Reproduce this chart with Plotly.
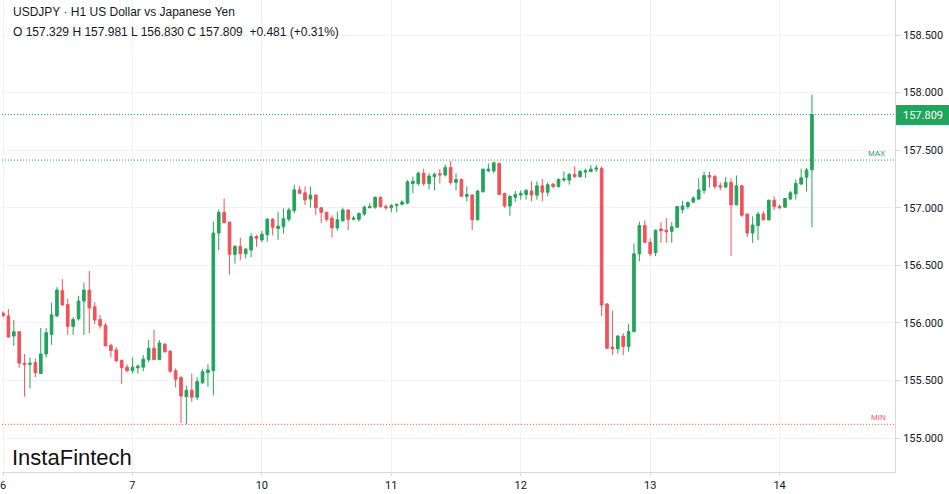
import plotly.graph_objects as go

# ---------------- data ----------------
symbol_title = "USDJPY · H1 US Dollar vs Japanese Yen"
day_labels = ["6", "7", "10", "11", "12", "13", "14"]
bars_per_day = 24

opens = [
    156.085, 156.06, 155.886, 155.923, 155.65, 155.64, 155.655, 155.56, 155.73, 155.90,
    156.06, 156.28, 156.16, 155.97, 156.035, 156.19, 156.285, 156.14, 156.03, 155.98,
    155.805, 155.765, 155.675, 155.615, 155.585, 155.61, 155.615, 155.68, 155.78, 155.68,
    155.815, 155.755, 155.585, 155.525, 155.36, 155.415, 155.355, 155.48, 155.57, 155.585,
    156.78, 156.96, 156.875, 156.595, 156.665, 156.60, 156.633, 156.75, 156.72, 156.765,
    156.90, 156.82, 156.835, 156.90, 156.975, 157.155, 157.13, 157.075, 157.11, 157.00,
    156.96, 156.91, 156.825, 156.885, 156.98, 156.90, 156.90, 156.945, 157.00, 157.005,
    157.09, 157.01, 157.00, 157.02, 157.03, 157.04, 157.21, 157.21, 157.30, 157.21,
    157.27, 157.295, 157.285, 157.35, 157.22, 157.245, 157.10, 157.11, 156.895, 157.14,
    157.32, 157.32, 157.385, 157.125, 157.015, 157.09, 157.11, 157.115, 157.145, 157.11,
    157.19, 157.135, 157.205, 157.185, 157.24, 157.24, 157.29, 157.27, 157.31, 157.315,
    157.335, 157.34, 156.165, 155.79, 155.775, 155.885, 155.795, 155.925, 156.60, 156.845,
    156.70, 156.61, 156.815, 156.805, 156.795, 156.83, 156.985, 157.01, 157.05, 157.075,
    157.15, 157.28, 157.27, 157.19, 157.18, 157.22, 157.025, 157.19, 156.945, 156.78,
    156.845, 156.945, 156.895, 157.065, 157.01, 157.005, 157.075, 157.12, 157.205, 157.265,
    157.329,
]
highs = [
    156.10, 156.12, 156.025, 155.93, 155.73, 155.70, 155.69, 155.955, 155.955, 156.175,
    156.31, 156.38, 156.21, 156.05, 156.235, 156.35, 156.45, 156.18, 156.07, 156.00,
    155.82, 155.79, 155.68, 155.64, 155.70, 155.64, 155.72, 155.85, 155.94, 155.85,
    155.825, 155.76, 155.605, 155.54, 155.455, 155.56, 155.53, 155.60, 155.64, 156.88,
    156.985, 157.08, 156.88, 156.675, 156.74, 156.65, 156.78, 156.765, 156.80, 156.91,
    156.91, 156.965, 156.995, 157.00, 157.20, 157.19, 157.185, 157.185, 157.115, 157.00,
    156.965, 156.935, 156.965, 157.00, 156.985, 156.93, 156.96, 157.02, 157.04, 157.10,
    157.10, 157.03, 157.03, 157.035, 157.065, 157.24, 157.27, 157.315, 157.34, 157.30,
    157.305, 157.335, 157.375, 157.405, 157.30, 157.255, 157.185, 157.12, 157.155, 157.34,
    157.385, 157.40, 157.39, 157.13, 157.105, 157.145, 157.15, 157.165, 157.23, 157.23,
    157.25, 157.22, 157.215, 157.255, 157.315, 157.30, 157.36, 157.33, 157.34, 157.37,
    157.37, 157.36, 156.17, 156.105, 155.895, 155.91, 155.99, 156.69, 156.88, 156.89,
    156.735, 156.81, 156.875, 156.91, 156.875, 157.015, 157.06, 157.055, 157.10, 157.255,
    157.315, 157.315, 157.285, 157.22, 157.265, 157.255, 157.28, 157.20, 156.95, 156.925,
    156.965, 156.97, 157.07, 157.10, 157.03, 157.085, 157.145, 157.245, 157.34, 157.345,
    157.981,
]
lows = [
    156.05, 155.87, 155.80, 155.61, 155.36, 155.43, 155.53, 155.56, 155.70, 155.81,
    156.05, 156.15, 155.895, 155.895, 156.02, 155.895, 155.91, 155.99, 155.95, 155.80,
    155.70, 155.66, 155.47, 155.57, 155.56, 155.56, 155.58, 155.66, 155.68, 155.68,
    155.74, 155.565, 155.44, 155.13, 155.119, 155.315, 155.33, 155.47, 155.445, 155.37,
    156.63, 156.865, 156.42, 156.515, 156.545, 156.56, 156.57, 156.66, 156.70, 156.705,
    156.76, 156.72, 156.775, 156.88, 156.955, 157.12, 157.025, 157.00, 156.935, 156.865,
    156.88, 156.74, 156.80, 156.885, 156.805, 156.89, 156.88, 156.93, 156.995, 156.99,
    157.00, 156.98, 156.96, 156.96, 157.02, 157.03, 157.125, 157.19, 157.19, 157.16,
    157.15, 157.21, 157.27, 157.20, 157.15, 157.095, 157.055, 156.805, 156.89, 157.13,
    157.31, 157.30, 157.11, 157.00, 156.93, 157.05, 157.07, 157.07, 157.055, 157.07,
    157.055, 157.10, 157.17, 157.175, 157.225, 157.20, 157.26, 157.26, 157.26, 157.31,
    157.31, 156.06, 155.77, 155.72, 155.735, 155.72, 155.75, 155.915, 156.535, 156.69,
    156.58, 156.58, 156.695, 156.695, 156.695, 156.83, 156.955, 156.99, 157.04, 157.07,
    157.12, 157.175, 157.16, 157.15, 157.17, 156.58, 157.02, 156.92, 156.745, 156.695,
    156.72, 156.89, 156.89, 156.98, 156.99, 157.00, 157.07, 157.07, 157.20, 157.14,
    156.830,
]
closes = [
    156.062, 155.877, 155.923, 155.65, 155.64, 155.65, 155.567, 155.73, 155.915, 156.07,
    156.285, 156.155, 155.97, 156.03, 156.19, 156.285, 156.13, 156.025, 155.975, 155.80,
    155.76, 155.67, 155.61, 155.585, 155.615, 155.625, 155.685, 155.78, 155.68, 155.825,
    155.75, 155.58, 155.51, 155.365, 155.415, 155.355, 155.49, 155.575, 155.59, 156.78,
    156.96, 156.87, 156.595, 156.665, 156.60, 156.64, 156.75, 156.735, 156.77, 156.90,
    156.83, 156.84, 156.905, 156.98, 157.155, 157.125, 157.067, 157.11, 157.00, 156.96,
    156.90, 156.825, 156.895, 156.98, 156.90, 156.91, 156.95, 157.005, 157.01, 157.09,
    157.01, 157.00, 157.02, 157.03, 157.05, 157.225, 157.23, 157.30, 157.21, 157.275,
    157.29, 157.285, 157.35, 157.22, 157.245, 157.10, 157.115, 156.895, 157.145, 157.335,
    157.335, 157.39, 157.115, 157.015, 157.10, 157.115, 157.125, 157.15, 157.11, 157.19,
    157.135, 157.20, 157.185, 157.245, 157.25, 157.29, 157.27, 157.315, 157.32, 157.335,
    157.345, 156.155, 155.78, 155.775, 155.885, 155.795, 155.925, 156.60, 156.845, 156.70,
    156.60, 156.805, 156.80, 156.79, 156.835, 157.01, 157.015, 157.045, 157.085, 157.155,
    157.28, 157.265, 157.185, 157.18, 157.22, 157.025, 157.19, 156.935, 156.78, 156.85,
    156.945, 156.895, 157.065, 157.01, 157.00, 157.08, 157.13, 157.21, 157.26, 157.328,
    157.809,
]
max_level = 157.414
min_level = 155.119
price_ticks = [155.0, 155.5, 156.0, 156.5, 157.0, 157.5, 158.0, 158.5]

# ---------------- styles ----------------
UP = "#22a45c"
DOWN = "#f0525a"
GRID = "#f0f2f6"
AXIS = "#d6d9e0"
TEXT = "#131722"

x = list(range(len(opens)))
tickvals = [i * bars_per_day for i in range(len(day_labels))]

last_o, last_h, last_l, last_c = opens[-1], highs[-1], lows[-1], closes[-1]
chg = last_c - closes[-2]
pct = chg / closes[-2] * 100
ohlc_text = (f"O {last_o:.3f} H {last_h:.3f} L {last_l:.3f} C {last_c:.3f}  "
             f"{chg:+.3f} ({pct:+.2f}%)")

fig = go.Figure()
fig.add_trace(go.Candlestick(
    x=x, open=opens, high=highs, low=lows, close=closes,
    increasing=dict(line=dict(color=UP, width=1), fillcolor=UP),
    decreasing=dict(line=dict(color=DOWN, width=1), fillcolor=DOWN),
    whiskerwidth=0,
    hoverinfo="skip",
))

fig.update_layout(
    width=949, height=494,
    margin=dict(l=0, r=54, t=0, b=22),
    paper_bgcolor="white", plot_bgcolor="white",
    showlegend=False,
    font=dict(family="Roboto, Liberation Sans, Arial", size=11, color=TEXT),
    xaxis=dict(
        range=[-0.19, 165.4], tickvals=tickvals, ticktext=day_labels,
        showgrid=True, gridcolor=GRID, gridwidth=1,
        showline=True, linecolor=AXIS, linewidth=1,
        ticks="outside", ticklen=3, tickcolor=AXIS,
        ticklabeloverflow="allow",
        zeroline=False, rangeslider=dict(visible=False), fixedrange=True,
        tickfont=dict(size=11, color=TEXT),
    ),
    yaxis=dict(
        side="right", range=[154.705, 158.804], tickvals=price_ticks,
        tickformat=".3f",
        showgrid=True, gridcolor=GRID, gridwidth=1,
        showline=True, linecolor=AXIS, linewidth=1,
        ticks="outside", ticklen=5, tickcolor=AXIS,
        zeroline=False, fixedrange=True,
        tickfont=dict(size=11, color=TEXT),
    ),
)

# dotted level lines
for level, col in [(last_c, UP), (max_level, UP), (min_level, DOWN)]:
    fig.add_shape(type="line", xref="paper", x0=0, x1=1, yref="y", y0=level, y1=level,
                  line=dict(color=col, width=1, dash="1px,2px"))

# header texts
fig.add_annotation(xref="paper", yref="paper", x=9 / 895, y=1 - 12 / 472,
                   xanchor="left", yanchor="middle", showarrow=False,
                   text=symbol_title,
                   font=dict(family="Liberation Sans, Arial", size=12, color=TEXT))
fig.add_annotation(xref="paper", yref="paper", x=9 / 895, y=1 - 32 / 472,
                   xanchor="left", yanchor="middle", showarrow=False,
                   text=ohlc_text,
                   font=dict(family="Liberation Sans, Arial", size=12, color=TEXT))

# MAX / MIN labels
fig.add_annotation(xref="paper", yref="y", x=888 / 895, y=max_level,
                   xanchor="right", yanchor="bottom", yshift=0, showarrow=False,
                   text="MAX", font=dict(family="Liberation Sans, Arial", size=8, color=UP))
fig.add_annotation(xref="paper", yref="y", x=888 / 895, y=min_level,
                   xanchor="right", yanchor="bottom", yshift=0, showarrow=False,
                   text="MIN", font=dict(family="Liberation Sans, Arial", size=8, color=DOWN))

# last price label
fig.add_annotation(xref="paper", yref="y", x=1, y=last_c, xanchor="left", yanchor="middle",
                   showarrow=False, text=f"{last_c:.3f}", bgcolor=UP, bordercolor=UP,
                   borderpad=2, width=48, height=14, align="center", xshift=1,
                   font=dict(family="Roboto, Liberation Sans, Arial", size=11, color="white"))

# logo
fig.add_annotation(xref="paper", yref="paper", x=8 / 895, y=1 - 457 / 472,
                   xanchor="left", yanchor="middle", showarrow=False,
                   text="InstaFintech",
                   font=dict(family="Liberation Sans, Arial", size=22, color="#111111"))

fig.write_html(
    "out.html",
    config={"displayModeBar": False},
    post_script="document.body.style.margin='0';document.body.style.overflow='hidden';",
)
